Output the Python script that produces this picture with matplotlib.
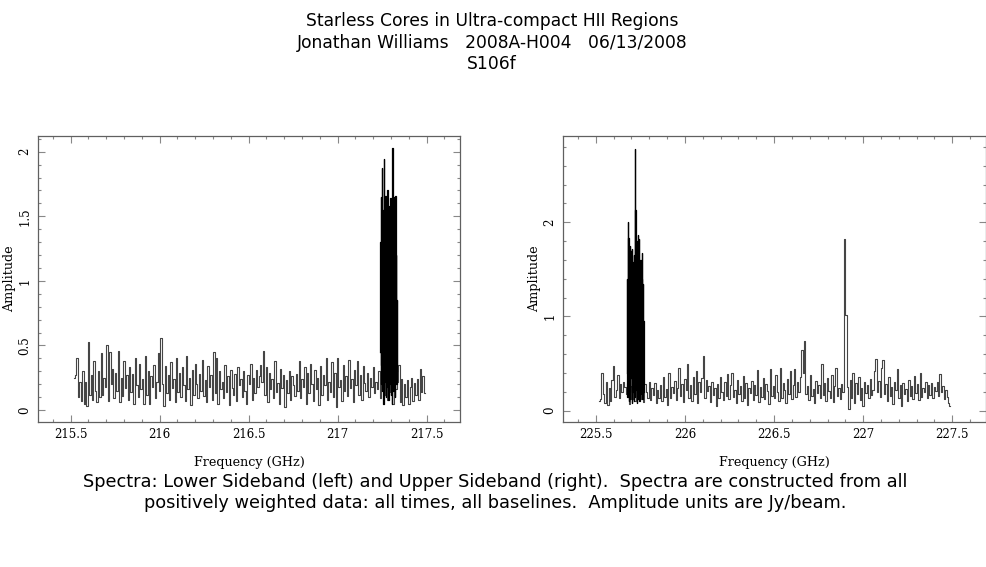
import numpy as np
import matplotlib
matplotlib.use('Agg')
import matplotlib.pyplot as plt
from matplotlib.ticker import MultipleLocator

# Lower sideband: broad channels, 8 MHz spacing
lsb_start = 215.52
lsb_step = 0.008
lsb_amp = [
    0.25, 0.27, 0.40, 0.10, 0.22, 0.07, 0.30, 0.05, 0.22, 0.03, 0.53, 0.12, 0.27,
    0.08, 0.38, 0.15, 0.06, 0.30, 0.10, 0.44, 0.12, 0.25, 0.18, 0.50, 0.07, 0.45,
    0.20, 0.32, 0.09, 0.29, 0.15, 0.46, 0.06, 0.25, 0.11, 0.38, 0.17, 0.27, 0.08,
    0.33, 0.14, 0.28, 0.05, 0.40, 0.19, 0.10, 0.36, 0.16, 0.24, 0.05, 0.42, 0.12,
    0.30, 0.05, 0.26, 0.18, 0.35, 0.09, 0.22, 0.44, 0.15, 0.56, 0.20, 0.03, 0.34,
    0.13, 0.27, 0.08, 0.37, 0.17, 0.24, 0.06, 0.40, 0.14, 0.29, 0.10, 0.33, 0.19,
    0.07, 0.42, 0.16, 0.25, 0.04, 0.31, 0.12, 0.36, 0.20, 0.09, 0.28, 0.15, 0.39,
    0.11, 0.23, 0.06, 0.34, 0.18, 0.27, 0.08, 0.45, 0.13, 0.40, 0.05, 0.30, 0.16,
    0.22, 0.09, 0.35, 0.14, 0.26, 0.04, 0.31, 0.17, 0.12, 0.28, 0.07, 0.33, 0.19,
    0.24, 0.10, 0.30, 0.15, 0.05, 0.27, 0.20, 0.36, 0.08, 0.25, 0.13, 0.31, 0.18,
    0.26, 0.35, 0.22, 0.46, 0.12, 0.33, 0.06, 0.29, 0.16, 0.24, 0.09, 0.38, 0.14,
    0.21, 0.05, 0.32, 0.17, 0.27, 0.02, 0.23, 0.13, 0.30, 0.08, 0.26, 0.19, 0.11,
    0.28, 0.15, 0.38, 0.09, 0.24, 0.18, 0.33, 0.05, 0.29, 0.13, 0.36, 0.20, 0.07,
    0.31, 0.16, 0.25, 0.04, 0.34, 0.12, 0.27, 0.19, 0.40, 0.08, 0.22, 0.14, 0.37,
    0.10, 0.29, 0.02, 0.40, 0.18, 0.23, 0.07, 0.35, 0.15, 0.26, 0.11, 0.39, 0.17,
    0.24, 0.06, 0.31, 0.19, 0.38, 0.12, 0.27, 0.08, 0.34, 0.21, 0.15, 0.29, 0.10,
    0.25, 0.18, 0.33, 0.13, 0.22, 0.16, 0.30, 0.09, 0.27, 0.19, 0.12, 0.35, 0.08,
    0.24, 0.14, 0.31, 0.05, 0.28, 0.16, 0.22, 0.35, 0.06, 0.24, 0.04, 0.20, 0.10,
    0.23, 0.05, 0.18, 0.25, 0.07, 0.21, 0.12, 0.24, 0.08, 0.32, 0.14, 0.26, 0.13,
]

# Lower sideband: high-resolution chunk with the line, 2 MHz spacing
lsb_line_start = 217.238
lsb_line_step = 0.002
lsb_line_amp = [
    0.45, 1.30, 0.20, 1.65, 0.35, 1.87, 0.15, 1.10, 0.40, 1.55,
    0.05, 1.94, 0.30, 1.45, 0.22, 1.66, 0.10, 1.62, 0.38, 1.20,
    0.18, 1.70, 0.25, 1.50, 0.08, 1.58, 0.33, 1.35, 0.20, 1.64,
    0.12, 1.40, 0.28, 1.60, 0.05, 2.03, 0.30, 1.48, 0.15, 1.65,
    0.24, 1.30, 0.10, 1.66, 0.35, 1.20, 0.20, 0.85, 0.30,
]

# Upper sideband: broad channels
usb_start = 225.52
usb_step = 0.008
usb_amp = [
    0.10, 0.12, 0.40, 0.18, 0.08, 0.30, 0.06, 0.24, 0.10, 0.33, 0.47, 0.15, 0.22,
    0.38, 0.14, 0.28, 0.20, 0.31, 0.25, 0.18, 0.29, 0.07, 0.26, 0.12, 0.30, 0.10,
    0.22, 0.15, 0.30, 0.12, 0.26, 0.09, 0.28, 0.20, 0.14, 0.31, 0.11, 0.24, 0.17,
    0.29, 0.08, 0.22, 0.13, 0.27, 0.10, 0.36, 0.15, 0.23, 0.06, 0.40, 0.14, 0.25,
    0.19, 0.32, 0.11, 0.24, 0.45, 0.16, 0.28, 0.09, 0.34, 0.22, 0.50, 0.13, 0.27,
    0.10, 0.36, 0.18, 0.42, 0.08, 0.30, 0.20, 0.35, 0.58, 0.14, 0.33, 0.21, 0.26,
    0.09, 0.31, 0.17, 0.24, 0.05, 0.28, 0.14, 0.36, 0.20, 0.11, 0.30, 0.16, 0.39,
    0.12, 0.27, 0.40, 0.15, 0.22, 0.08, 0.33, 0.18, 0.26, 0.10, 0.37, 0.14, 0.29,
    0.06, 0.24, 0.19, 0.32, 0.11, 0.27, 0.17, 0.43, 0.09, 0.25, 0.15, 0.35, 0.12,
    0.28, 0.21, 0.07, 0.44, 0.16, 0.26, 0.13, 0.38, 0.20, 0.10, 0.45, 0.14, 0.29,
    0.22, 0.08, 0.34, 0.18, 0.42, 0.12, 0.27, 0.44, 0.15, 0.31, 0.20, 0.36, 0.64,
    0.40, 0.74, 0.18, 0.26, 0.11, 0.38, 0.16, 0.23, 0.08, 0.32, 0.19, 0.27, 0.13,
    0.50, 0.17, 0.29, 0.10, 0.35, 0.21, 0.14, 0.38, 0.09, 0.26, 0.45, 0.16, 0.24,
    0.12, 0.28, 0.20, 1.82, 1.02, 0.25, 0.02, 0.33, 0.14, 0.40, 0.08, 0.29, 0.18,
    0.36, 0.11, 0.24, 0.05, 0.30, 0.19, 0.27, 0.13, 0.34, 0.17, 0.22, 0.42, 0.55,
    0.20, 0.32, 0.15, 0.45, 0.54, 0.18, 0.28, 0.10, 0.36, 0.16, 0.25, 0.07, 0.31,
    0.22, 0.44, 0.14, 0.27, 0.05, 0.29, 0.18, 0.23, 0.10, 0.33, 0.16, 0.26, 0.12,
    0.37, 0.19, 0.28, 0.11, 0.40, 0.15, 0.24, 0.20, 0.31, 0.13, 0.27, 0.17, 0.29,
    0.14, 0.25, 0.21, 0.30, 0.16, 0.39, 0.20, 0.26, 0.12, 0.22, 0.15, 0.08, 0.05,
]

# Upper sideband: high-resolution chunk with the line
usb_line_start = 225.674
usb_line_step = 0.002
usb_line_amp = [
    0.40, 1.40, 0.15, 2.00, 0.30, 1.83, 0.10, 1.60, 0.25, 1.75,
    0.12, 1.70, 0.35, 1.55, 0.08, 1.72, 0.20, 1.58, 0.30, 1.45,
    0.10, 1.65, 0.28, 2.78, 0.15, 2.13, 0.22, 1.50, 0.08, 1.80,
    0.30, 1.87, 0.12, 1.55, 0.25, 1.82, 0.10, 1.48, 0.35, 1.60,
    0.18, 1.40, 0.30, 1.67, 0.12, 1.35, 0.25, 0.95, 0.20,
]

title_lines = [
    'Starless Cores in Ultra-compact HII Regions',
    'Jonathan Williams   2008A-H004   06/13/2008',
    'S106f',
]
caption_lines = [
    'Spectra: Lower Sideband (left) and Upper Sideband (right).  '
    'Spectra are constructed from all',
    'positively weighted data: all times, all baselines.  '
    'Amplitude units are Jy/beam.',
]


def channels(start, step, amp):
    return start + step * np.arange(len(amp)), np.array(amp)


fig = plt.figure(figsize=(9.87, 5.67), dpi=100)

serif = 'DejaVu Serif'
line_col = '#454545'
frame_col = '#606060'

panels = [
    dict(rect=[0.0388, 0.2552, 0.4272, 0.5055],
         base=(lsb_start, lsb_step, lsb_amp),
         line=(lsb_line_start, lsb_line_step, lsb_line_amp),
         xlim=(215.318, 217.687), ylim=(-0.095, 2.124),
         ymaj=0.5, ymin=0.1),
    dict(rect=[0.5707, 0.2552, 0.4283, 0.5055],
         base=(usb_start, usb_step, usb_amp),
         line=(usb_line_start, usb_line_step, usb_line_amp),
         xlim=(225.318, 227.689), ylim=(-0.123, 2.919),
         ymaj=1.0, ymin=0.2),
]

for p in panels:
    ax = fig.add_axes(p['rect'])
    f, a = channels(*p['base'])
    ax.plot(f, a, color=line_col, lw=0.8, drawstyle='steps-mid')
    f, a = channels(*p['line'])
    ax.plot(f, a, color='black', lw=0.9, drawstyle='steps-mid')
    ax.set_xlim(*p['xlim'])
    ax.set_ylim(*p['ylim'])

    ax.xaxis.set_major_locator(MultipleLocator(0.5))
    ax.xaxis.set_minor_locator(MultipleLocator(0.1))
    ax.yaxis.set_major_locator(MultipleLocator(p['ymaj']))
    ax.yaxis.set_minor_locator(MultipleLocator(p['ymin']))
    ax.xaxis.set_major_formatter(plt.FuncFormatter(lambda v, _: f'{v:g}'))
    ax.yaxis.set_major_formatter(plt.FuncFormatter(lambda v, _: f'{v:g}'))

    ax.tick_params(which='both', direction='in', top=True, right=True,
                   color='#888888', width=0.8)
    ax.tick_params(which='major', length=5)
    ax.tick_params(which='minor', length=2.5)
    ax.tick_params(axis='x', labelsize=8.5, pad=4)
    ax.tick_params(axis='y', labelsize=8.5, pad=5)
    for lab in ax.get_xticklabels() + ax.get_yticklabels():
        lab.set_family(serif)
    for lab in ax.get_yticklabels():
        lab.set_rotation(90)
        lab.set_va('center')
    for s in ax.spines.values():
        s.set_color(frame_col)
        s.set_linewidth(0.9)

    ax.set_xlabel('Frequency (GHz)', family=serif, fontsize=9.2, labelpad=11)
    ax.set_ylabel('Amplitude', family=serif, fontsize=9.2, labelpad=1.5)

for i, t in enumerate(title_lines):
    fig.text(0.4985, 1 - (21 + 21.5 * i) / 567, t, ha='center', va='center',
             fontsize=12.3, family='DejaVu Sans')

for i, t in enumerate(caption_lines):
    fig.text(0.5015, 1 - (482 + 21 * i) / 567, t, ha='center', va='center',
             fontsize=12.8, family='DejaVu Sans')

fig.savefig('out.png', dpi=100)
